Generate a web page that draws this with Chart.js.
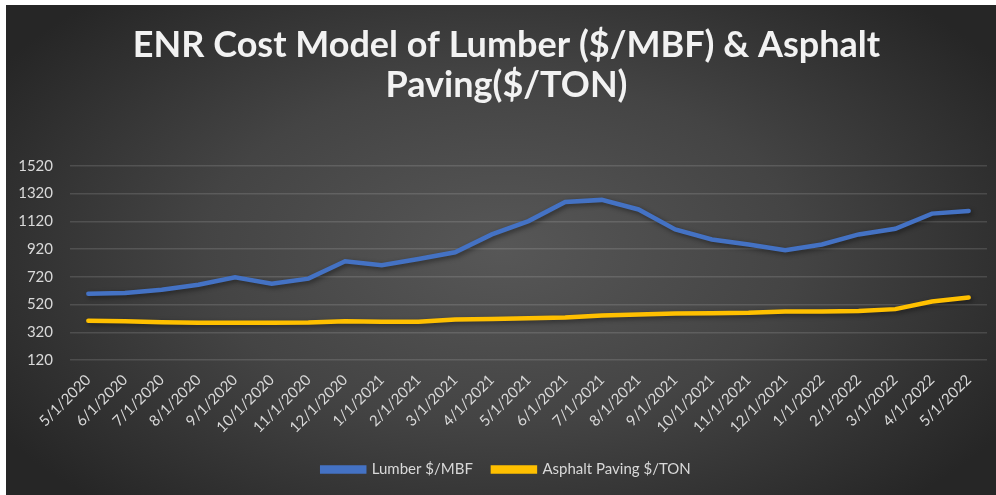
<!DOCTYPE html>
<html>
<head>
<meta charset="utf-8">
<script src="https://cdn.jsdelivr.net/npm/chart.js@4"></script>
<style>
  html, body { margin: 0; padding: 0; background: #fff; }
  #wrap {
    position: absolute; left: 6px; top: 5px; width: 990px; height: 490px;
    background: radial-gradient(ellipse 60% 70% at 50% 50%, #575757 0%, #444 50%, #262626 100%);
  }
</style>
</head>
<body>
<div id="wrap"><canvas id="lineChart" width="990" height="490"></canvas></div>
<script>
  // Month labels
  var months = ["5/1/2020", "6/1/2020", "7/1/2020", "8/1/2020", "9/1/2020", "10/1/2020", "11/1/2020",
    "12/1/2020", "1/1/2021", "2/1/2021", "3/1/2021", "4/1/2021", "5/1/2021", "6/1/2021", "7/1/2021",
    "8/1/2021", "9/1/2021", "10/1/2021", "11/1/2021", "12/1/2021", "1/1/2022", "2/1/2022", "3/1/2022",
    "4/1/2022", "5/1/2022"];

  // Series values
  var lumber = [598, 603, 627, 663, 716, 671, 707, 832, 803, 849, 897, 1026, 1122, 1260, 1275,
    1206, 1062, 989, 953, 912, 953, 1026, 1067, 1176, 1195];
  var asphalt = [403, 400, 393, 388, 388, 388, 390, 400, 396, 396, 412, 415, 422, 427, 441,
    448, 455, 458, 460, 470, 470, 474, 487, 542, 571];

  // Y axis ticks
  var yMin = 120, yMax = 1520, yStep = 200;

  var txt = "#d9d9d9";
  var font = "Lato, 'Open Sans', sans-serif";

  // soft shadow under the lines, like Excel
  var shadowPlugin = {
    id: "lineShadow",
    afterLayout: function(chart) {
      // title and legend in the original sit a little right of the canvas centre
      if (chart.titleBlock) chart.titleBlock.left += 20;
      if (chart.legend) chart.legend.left += 20;
    },
    beforeDatasetsDraw: function(chart) {
      var c = chart.ctx;
      c.save();
      c.shadowColor = "rgba(0,0,0,0.45)";
      c.shadowBlur = 5;
      c.shadowOffsetX = 2;
      c.shadowOffsetY = 2;
    },
    afterDatasetsDraw: function(chart) {
      chart.ctx.restore();
    }
  };

  var data = {
    labels: months,
    datasets: [
      {
        label: "Lumber $/MBF",
        data: lumber,
        borderColor: "#4472C4",
        backgroundColor: "#4472C4",
        borderWidth: 4.5,
        pointRadius: 0,
        tension: 0,
        borderCapStyle: "round"
      },
      {
        label: "Asphalt Paving $/TON",
        data: asphalt,
        borderColor: "#FFC000",
        backgroundColor: "#FFC000",
        borderWidth: 4.5,
        pointRadius: 0,
        tension: 0,
        borderCapStyle: "round"
      }
    ]
  };

  var config = {
    type: "line",
    data: data,
    plugins: [shadowPlugin],
    options: {
      responsive: false,
      animation: false,
      layout: { padding: { left: 0, right: 9, top: 10, bottom: 8 } },
      plugins: {
        title: {
          display: true,
          text: ["ENR Cost Model of Lumber ($/MBF) & Asphalt", "Paving($/TON)"],
          color: "#f2f2f2",
          font: { family: font, size: 36, weight: "bold", lineHeight: 1.11 },
          padding: { top: 10, bottom: 61 }
        },
        legend: {
          position: "bottom",
          labels: {
            color: txt,
            font: { family: font, size: 15 },
            boxWidth: 42,
            boxHeight: 4,
            padding: 20
          }
        },
        tooltip: { enabled: false }
      },
      scales: {
        x: {
          offset: true,
          grid: { display: false },
          border: { display: false },
          afterFit: function(axis) { axis.height = 82; },
          ticks: {
            color: txt,
            font: { family: font, size: 15 },
            maxRotation: 45,
            minRotation: 45,
            autoSkip: false
          }
        },
        y: {
          min: yMin,
          max: yMax,
          border: { display: false },
          afterFit: function(axis) { axis.width = 64; },
          grid: { color: "rgba(255,255,255,0.13)", lineWidth: 1.5, drawTicks: false },
          ticks: {
            stepSize: yStep,
            color: txt,
            font: { family: font, size: 15 },
            padding: 17,
            callback: function(v) { return String(v); }
          }
        }
      }
    }
  };

  var ctx = document.getElementById("lineChart").getContext("2d");
  new Chart(ctx, config);
</script>
</body>
</html>
